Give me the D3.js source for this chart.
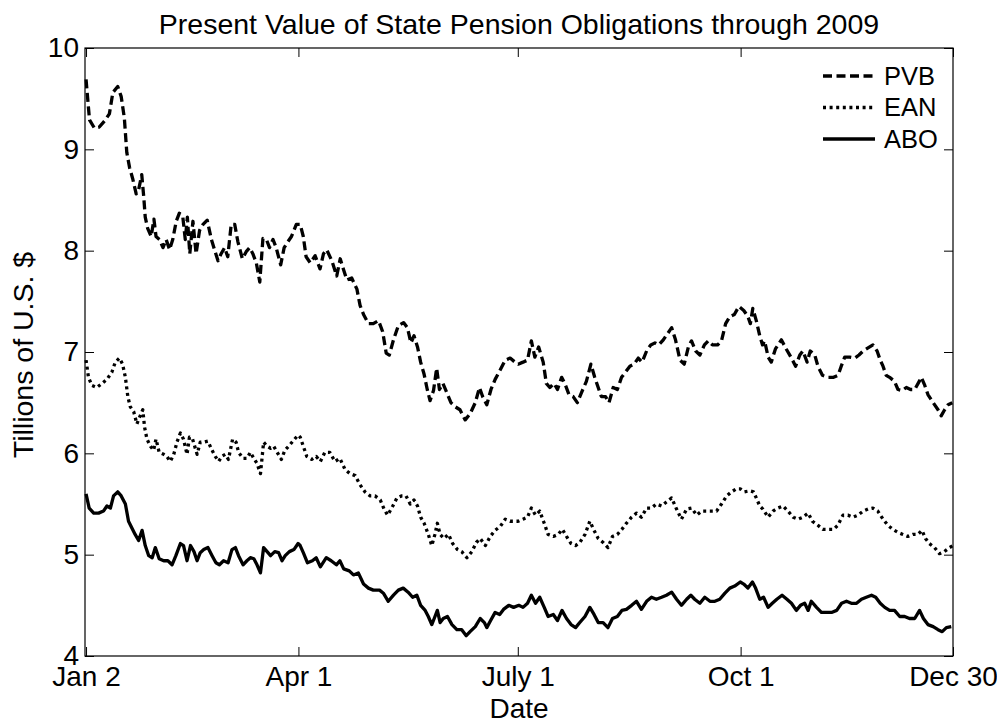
<!DOCTYPE html>
<html>
<head>
<meta charset="utf-8">
<script src="https://cdn.jsdelivr.net/npm/d3@7"></script>
<style>
  body { margin: 0; background: #fff; }
  svg text { font-family: "Liberation Sans", Arial, Helvetica, sans-serif; fill: #000; }
</style>
</head>
<body>
<svg id="chart"></svg>
<script>
// x is the trading day of 2009 (0 = Jan 2)
const tickDays = [0, 61, 124, 188, 249];
const tickLabels = ["Jan 2", "Apr 1", "July 1", "Oct 1", "Dec 30"];
const yTicks = [4, 5, 6, 7, 8, 9, 10];

const pvbDays = [0,1,2.4,3.8,5.3,6.7,7.7,9.1,10.1,11,11.7,12.5,13.4,14.4,15.1,16,16.6,17,17.7,18.7,
  19.5,20.1,21.1,22.1,23,24,24.9,25.9,26.8,27.8,28.5,29.1,29.8,30.7,31.6,32.6,33.6,34.8,36,36.9,
  37.9,38.8,39.8,40.7,41.7,42.7,43.6,44.9,46,47,47.9,48.9,49.9,50.8,51.8,52.7,53.7,54.6,55.9,56.9,58,59,60.4,
  61.5,62.4,63.2,64.4,65.8,67.2,68.2,69.1,70.6,72,73,73.9,74.9,76.3,77.8,78.7,79.7,81.1,82.5,84,
  85.2,86.2,87.1,88.3,89.7,91.2,92.3,93.3,94.2,95.2,96.1,97.1,98,98.8,99.8,100.7,101.5,102.5,103.6,104.8,
  106,107.4,108.9,110.3,111.8,113,113.9,115.1,116.3,117.5,118.9,120.4,121.8,123.2,
  124.1,125.5,126.8,127.9,128.9,130,131.3,132.2,133.2,134.4,135.4,136.6,137.5,138.7,139.9,141.1,142.3,143.7,145,146.1,
  147.1,148,149.2,150.2,151.4,152.6,153.8,154.9,156.2,157.4,158.6,159.7,161,162.2,163.4,164.5,165.8,167,168.2,169.3,
  170.6,171.8,173,173.9,175.1,176.3,177.6,178.7,179.9,181.4,182.5,183.7,184.9,186.2,
  187.5,188.9,190.1,190.8,191.5,192.5,193.5,194.3,194.9,195.9,196.8,198,199.7,201.1,202.6,203.8,205,205.9,207.1,208,
  209.3,210.2,211.5,213.1,214.7,216,216.9,217.9,219.3,220.8,222,223.2,224.6,226,227.2,228.1,228.9,229.8,230.8,232.2,
  233.2,234.4,235.6,236.8,238,239.3,239.9,240.9,241.8,243.3,244.7,245.6,246.6,247.6,248.8];
const pvbValues = [9.69,9.29,9.21,9.22,9.28,9.35,9.56,9.62,9.52,9.31,8.97,8.82,8.71,8.56,8.60,8.75,8.52,8.33,8.22,8.14,
  8.31,8.14,8.11,8.03,8.11,8.01,8.11,8.29,8.37,8.33,8.11,8.33,7.97,8.29,7.97,8.20,8.26,8.30,8.11,8.01,
  7.90,7.97,8.03,7.94,8.26,8.26,8.09,7.92,7.99,8.03,7.97,7.88,7.69,8.12,8.11,8.03,8.11,8.03,7.86,8.03,8.09,8.14,8.26,
  8.26,8.14,7.94,7.88,7.95,7.82,7.97,8.01,7.90,7.75,7.92,7.82,7.71,7.73,7.62,7.46,7.37,7.28,7.28,7.31,
  7.20,6.99,6.97,7.12,7.26,7.29,7.24,7.09,7.16,7.05,6.90,6.78,6.63,6.52,6.62,6.84,6.63,6.69,6.60,6.50,
  6.46,6.43,6.33,6.39,6.50,6.65,6.56,6.48,6.63,6.73,6.82,6.92,6.94,6.90,
  6.88,6.90,6.92,7.11,6.95,7.05,6.90,6.69,6.65,6.69,6.63,6.75,6.69,6.58,6.56,6.50,6.60,6.71,6.88,6.75,
  6.65,6.56,6.56,6.50,6.65,6.63,6.75,6.80,6.86,6.88,6.94,6.90,7.01,7.07,7.09,7.07,7.12,7.18,7.24,7.12,
  6.92,6.88,7.05,7.11,7.01,6.97,7.07,7.11,7.07,7.07,7.11,7.28,7.35,7.37,
  7.45,7.41,7.35,7.28,7.43,7.31,7.16,7.07,7.11,6.95,6.90,7.03,7.12,7.03,6.94,6.86,6.97,7.01,6.90,7.01,
  6.97,6.86,6.77,6.75,6.75,6.77,6.86,6.95,6.95,6.94,6.97,7.01,7.04,7.07,7.01,6.92,6.86,6.77,6.75,6.71,
  6.63,6.62,6.65,6.63,6.63,6.71,6.75,6.67,6.58,6.50,6.43,6.37,6.43,6.48,6.50];

const eanDays = [0,0.7,1.7,3.1,4.6,6.0,7.4,8.4,9.6,10.5,11.3,12.0,12.7,13.7,14.6,15.3,16.3,16.8,17.5,18.5,
  19.4,20.1,21.0,22.3,23.2,24.2,25.2,26.1,27.1,28.0,29.0,29.7,30.6,31.9,32.8,33.8,35.0,36.2,37.1,38.1,
  39.0,40.0,40.9,42.1,43.1,43.8,45.1,46.2,47.2,48.2,49.1,50.1,51.0,52.0,53.0,53.9,54.9,56.1,57.1,58.2,59.4,60.9,
  61.5,62.4,63.4,64.8,66.1,67.3,68.6,70.0,71.5,72.9,74.4,75.8,77.3,78.7,80.1,81.6,83.0,84.5,85.6,86.6,
  87.8,89.3,90.7,91.9,93.1,94.2,95.2,96.1,97.1,98.3,99.3,100.2,100.9,101.7,102.8,104.1,105.3,106.7,107.9,109.4,
  110.8,112.1,113.2,114.7,116.1,117.5,119.0,120.4,121.8,123.6,
  124.1,125.5,126.8,127.9,129.1,130.3,131.6,132.7,134.2,135.6,136.8,138.0,139.3,140.6,141.8,143.3,144.7,145.9,147.1,148.5,
  149.9,151.2,152.6,153.9,155.2,156.7,158.1,159.5,161.0,162.4,163.8,165.3,166.7,168.2,169.6,171.0,172.5,173.9,175.4,176.8,
  178.2,179.7,181.1,182.5,184.0,185.4,186.8,
  187.9,189.1,190.6,191.7,192.5,193.5,194.4,195.9,197.3,198.7,200.2,201.6,203.1,204.5,205.9,207.4,208.6,210.2,211.6,213.1,
  214.7,215.9,217.4,218.8,220.3,221.7,223.2,224.6,226.0,227.4,228.9,230.3,231.7,233.2,234.6,236.0,237.5,238.9,240.1,241.1,
  242.2,243.7,245.1,246.5,248.0,249];
const eanValues = [6.92,6.75,6.67,6.65,6.69,6.73,6.80,6.90,6.94,6.88,6.75,6.56,6.46,6.41,6.29,6.35,6.43,6.26,6.14,6.07,
  6.03,6.14,6.01,5.99,5.97,5.92,5.99,6.11,6.20,6.14,5.99,6.16,6.14,5.99,6.11,6.11,6.12,6.03,5.97,5.92,
  5.97,5.99,5.94,6.14,6.11,6.01,5.95,5.95,6.01,5.95,5.90,5.80,6.11,6.07,6.05,6.07,6.01,5.94,6.03,6.07,6.12,6.18,
  6.16,6.07,5.97,5.94,5.97,5.92,6.01,6.01,5.92,5.95,5.84,5.80,5.78,5.69,5.62,5.58,5.58,5.54,5.45,5.39,
  5.46,5.56,5.58,5.58,5.50,5.54,5.48,5.37,5.31,5.20,5.09,5.20,5.31,5.20,5.16,5.20,5.11,5.05,5.03,4.97,
  5.03,5.12,5.16,5.09,5.18,5.24,5.28,5.35,5.33,5.33,
  5.33,5.35,5.37,5.46,5.39,5.43,5.31,5.20,5.18,5.20,5.25,5.18,5.11,5.09,5.12,5.20,5.33,5.24,5.16,5.12,
  5.07,5.18,5.20,5.25,5.31,5.37,5.41,5.37,5.46,5.46,5.50,5.48,5.52,5.56,5.45,5.35,5.45,5.46,5.39,5.43,
  5.43,5.43,5.43,5.50,5.58,5.62,5.65,
  5.65,5.62,5.63,5.62,5.56,5.48,5.45,5.37,5.43,5.46,5.48,5.43,5.37,5.35,5.37,5.41,5.33,5.29,5.25,5.25,
  5.25,5.29,5.39,5.39,5.37,5.39,5.43,5.45,5.46,5.43,5.35,5.29,5.25,5.22,5.20,5.18,5.20,5.20,5.24,5.16,
  5.11,5.07,5.01,5.03,5.07,5.09];

const aboDays = [0,0.9,2.2,3.6,5.0,6.0,7.0,7.9,9.1,10.1,11.3,12.2,13.2,14.1,15.1,16.1,17.0,18.0,19.0,19.9,
  21.0,22.3,23.5,24.7,25.8,27.1,28.0,29.0,30.0,31.0,31.9,32.8,33.8,35.0,36.2,37.3,38.3,39.5,40.8,41.9,
  42.9,43.8,45.1,46.2,47.2,48.2,49.1,50.1,51.0,52.0,53.0,54.2,55.3,56.3,57.2,58.4,59.7,60.9,
  61.5,62.4,63.6,65.0,66.1,67.3,69.0,70.4,71.9,72.9,74.0,75.6,76.8,78.2,79.7,81.1,82.5,84.3,85.4,86.8,
  88.3,89.7,91.1,92.5,93.8,95.0,96.1,97.4,98.3,99.3,100.0,100.9,101.7,102.6,103.8,105.1,106.5,107.9,109.2,110.3,
  111.8,113.2,114.4,115.1,116.2,117.5,118.8,119.9,121.4,122.8,124.3,
  125.5,126.8,127.9,129.1,130.3,131.6,132.7,134.2,135.4,136.7,138.0,139.3,140.6,141.8,143.3,144.7,145.9,147.1,148.5,149.9,
  151.2,152.6,153.9,155.2,156.7,158.1,159.5,161.0,162.4,163.8,165.3,166.7,168.2,169.6,171.0,172.5,173.7,174.8,176.3,177.7,
  179.2,180.6,182.0,183.5,184.9,186.3,
  187.9,188.9,190.1,191.4,192.3,193.5,194.6,195.9,197.1,198.4,199.9,201.3,202.6,204.0,205.2,206.4,207.4,208.3,209.8,211.2,
  212.7,214.1,215.6,217.0,218.4,219.8,221.3,222.7,224.1,225.6,226.8,228.1,229.4,230.8,232.2,233.7,235.1,236.5,238.0,239.4,
  240.5,241.8,243.3,244.7,245.9,247.1,248.5];
const aboValues = [5.60,5.46,5.41,5.41,5.43,5.48,5.46,5.58,5.62,5.58,5.50,5.33,5.26,5.20,5.14,5.24,5.09,4.99,4.97,5.07,
  4.96,4.94,4.94,4.90,4.99,5.11,5.09,4.94,5.09,5.03,4.94,5.02,5.05,5.07,4.99,4.92,4.90,4.94,4.92,5.05,
  5.07,4.99,4.90,4.94,4.97,4.96,4.90,4.82,5.07,5.03,4.99,5.03,5.02,4.94,4.99,5.03,5.05,5.11,
  5.09,5.02,4.92,4.94,4.97,4.88,4.97,4.94,4.90,4.94,4.86,4.84,4.80,4.82,4.71,4.67,4.65,4.65,4.62,4.54,
  4.60,4.65,4.67,4.63,4.58,4.60,4.50,4.45,4.39,4.31,4.37,4.45,4.33,4.37,4.39,4.31,4.26,4.26,4.20,4.24,
  4.29,4.37,4.33,4.28,4.35,4.43,4.41,4.46,4.50,4.48,4.50,
  4.48,4.52,4.60,4.52,4.58,4.48,4.39,4.41,4.35,4.45,4.37,4.31,4.28,4.33,4.39,4.48,4.41,4.33,4.33,4.28,
  4.37,4.39,4.45,4.46,4.50,4.54,4.46,4.54,4.58,4.56,4.58,4.60,4.63,4.56,4.50,4.56,4.60,4.56,4.52,4.58,
  4.54,4.54,4.56,4.62,4.67,4.69,
  4.73,4.71,4.67,4.73,4.67,4.56,4.58,4.48,4.52,4.56,4.60,4.56,4.52,4.45,4.50,4.52,4.45,4.54,4.48,4.43,
  4.43,4.43,4.45,4.52,4.54,4.52,4.52,4.56,4.58,4.60,4.58,4.52,4.48,4.45,4.45,4.39,4.39,4.37,4.37,4.45,
  4.37,4.31,4.29,4.26,4.24,4.28,4.29];

const seriesNames = ["PVB", "EAN", "ABO"];
const seriesDash = ["9,4.5", "3,3.6", null];

const series = [
  {name: seriesNames[0], dash: seriesDash[0], points: d3.zip(pvbDays, pvbValues)},
  {name: seriesNames[1], dash: seriesDash[1], points: d3.zip(eanDays, eanValues)},
  {name: seriesNames[2], dash: seriesDash[2], points: d3.zip(aboDays, aboValues)}
];

const width = 997;
const height = 723;
const margin = {top: 48, right: 44, bottom: 67, left: 85};
const innerW = width - margin.left - margin.right;
const innerH = height - margin.top - margin.bottom;
const fontSize = 28;
const tickLen = 9;

const svg = d3.select("#chart")
              .attr("width", width)
              .attr("height", height);

const plot = svg.append("g")
                .attr("transform", "translate(" + margin.left + "," + margin.top + ")");

const x = d3.scaleLinear()
            .domain([-0.3, 249])
            .range([0, innerW]);

const y = d3.scaleLinear()
            .domain([4, 10])
            .range([innerH, 0]);

// lines
const line = d3.line()
               .x(d => x(d[0]))
               .y(d => y(d[1]));

plot.append("g")
    .selectAll("path")
    .data(series)
    .enter()
    .append("path")
    .attr("d", d => line(d.points))
    .attr("fill", "none")
    .attr("stroke", "#000")
    .attr("stroke-width", 3.3)
    .attr("stroke-linejoin", "round")
    .attr("stroke-dasharray", d => d.dash);

// axes with inward ticks on all four sides
const styleAxis = g => {
  g.attr("font-size", fontSize)
   .attr("font-family", null);
  g.select(".domain").remove();
  g.selectAll(".tick line").attr("stroke", "#000").attr("stroke-width", 1);
};

plot.append("g")
    .attr("transform", "translate(0," + innerH + ")")
    .call(d3.axisBottom(x)
            .tickValues(tickDays)
            .tickFormat((d, i) => tickLabels[i])
            .tickSizeInner(-tickLen)
            .tickSizeOuter(0)
            .tickPadding(10))
    .call(styleAxis);

plot.append("g")
    .call(d3.axisTop(x)
            .tickValues(tickDays)
            .tickFormat("")
            .tickSizeInner(-tickLen)
            .tickSizeOuter(0))
    .call(styleAxis);

plot.append("g")
    .call(d3.axisLeft(y)
            .tickValues(yTicks)
            .tickFormat(d3.format("d"))
            .tickSizeInner(-tickLen)
            .tickSizeOuter(0)
            .tickPadding(6))
    .call(styleAxis);

plot.append("g")
    .attr("transform", "translate(" + innerW + ",0)")
    .call(d3.axisRight(y)
            .tickValues(yTicks)
            .tickFormat("")
            .tickSizeInner(-tickLen)
            .tickSizeOuter(0))
    .call(styleAxis);

plot.append("rect")
    .attr("x", 0)
    .attr("y", 0)
    .attr("width", innerW)
    .attr("height", innerH)
    .attr("fill", "none")
    .attr("stroke", "#000")
    .attr("stroke-width", 1.2);

// legend, top right inside the axes
const legend = plot.append("g")
                   .attr("transform", "translate(" + (innerW - 130) + ",28)");

const legendRows = legend.selectAll("g")
                         .data(series)
                         .enter()
                         .append("g")
                         .attr("transform", (d, i) => "translate(0," + i * 31.5 + ")");

legendRows.append("line")
          .attr("x1", 0)
          .attr("x2", 52)
          .attr("y1", 0)
          .attr("y2", 0)
          .attr("stroke", "#000")
          .attr("stroke-width", 3.3)
          .attr("stroke-dasharray", d => d.dash);

legendRows.append("text")
          .attr("x", 61)
          .attr("dy", "0.35em")
          .attr("font-size", 25.5)
          .text(d => d.name);

// titles
svg.append("text")
   .attr("x", margin.left + innerW / 2)
   .attr("y", 34)
   .attr("text-anchor", "middle")
   .attr("font-size", 28.5)
   .text("Present Value of State Pension Obligations through 2009");

svg.append("text")
   .attr("x", margin.left + innerW / 2)
   .attr("y", 718)
   .attr("text-anchor", "middle")
   .attr("font-size", fontSize)
   .text("Date");

svg.append("text")
   .attr("transform", "translate(33," + (margin.top + innerH / 2 + 3) + ") rotate(-90)")
   .attr("text-anchor", "middle")
   .attr("font-size", 28.5)
   .text("Tillions of U.S. $");
</script>
</body>
</html>
